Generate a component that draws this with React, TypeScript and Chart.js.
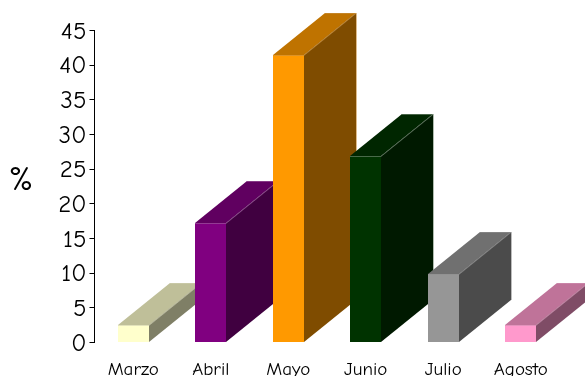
import { useEffect, useRef } from "react";
import { Chart, registerables } from "chart.js";

Chart.register(...registerables);

const months = ["Marzo", "Abril", "Mayo", "Junio", "Julio", "Agosto"];
const percentages = [2.5, 17.2, 41.5, 26.9, 9.9, 2.5];
const frontColors = ["#FFFFCC", "#800080", "#FF9900", "#003300", "#969696", "#FF99CC"];
const topColors = ["#BFBF99", "#600060", "#BF7300", "#002600", "#707070", "#BF7399"];
const sideColors = ["#7F7F66", "#400040", "#7F4C00", "#001900", "#4B4B4B", "#7F4C66"];
const edgeColors = ["#CFCFAF", "#A060A0", "#C89040", "#7A907A", "#909090", "#D090B0"];

const FONT = "'Comic Sans MS', 'Comic Neue', Lato, 'Open Sans', sans-serif";
const DEPTH_X = 52;
const DEPTH_Y = 42;

// Draws each bar as a box, left to right, so nearer fronts hide earlier sides.
const extrudedBars = {
  id: "extrudedBars",
  beforeDatasetsDraw(chart: any) {
    const { ctx } = chart;
    chart.getDatasetMeta(0).data.forEach((bar: any, i: number) => {
      const left = Math.round(bar.x - bar.width / 2);
      const right = left + Math.round(bar.width);
      const top = Math.round(bar.y);
      const base = Math.round(bar.base);
      ctx.save();
      ctx.fillStyle = topColors[i];
      ctx.beginPath();
      ctx.moveTo(left, top);
      ctx.lineTo(left + DEPTH_X, top - DEPTH_Y);
      ctx.lineTo(right + DEPTH_X, top - DEPTH_Y);
      ctx.lineTo(right, top);
      ctx.closePath();
      ctx.fill();
      ctx.fillStyle = sideColors[i];
      ctx.beginPath();
      ctx.moveTo(right, top);
      ctx.lineTo(right + DEPTH_X, top - DEPTH_Y);
      ctx.lineTo(right + DEPTH_X, base - DEPTH_Y);
      ctx.lineTo(right, base);
      ctx.closePath();
      ctx.fill();
      ctx.fillStyle = frontColors[i];
      ctx.fillRect(left, top, right - left, base - top);
      // Thin highlight along the upper and rear edges of the box.
      ctx.strokeStyle = edgeColors[i];
      ctx.lineWidth = 1;
      ctx.beginPath();
      ctx.moveTo(left, top + 0.5);
      ctx.lineTo(right, top + 0.5);
      ctx.lineTo(right + DEPTH_X, top - DEPTH_Y + 0.5);
      ctx.lineTo(left + DEPTH_X, top - DEPTH_Y + 0.5);
      ctx.moveTo(right + DEPTH_X + 0.5, top - DEPTH_Y);
      ctx.lineTo(right + DEPTH_X + 0.5, base - DEPTH_Y);
      ctx.globalAlpha = 0.6;
      ctx.stroke();
      ctx.restore();
    });
    return false;
  },
};

// Upright unit label left of the value axis.
const unitLabel = {
  id: "unitLabel",
  afterDraw(chart: any) {
    const { ctx } = chart;
    ctx.save();
    ctx.font = `34px ${FONT}`;
    ctx.fillStyle = "#000000";
    ctx.textAlign = "center";
    ctx.textBaseline = "middle";
    ctx.fillText("%", 21, 180);
    ctx.restore();
  },
};

export default function App() {
  const canvasRef = useRef<HTMLCanvasElement>(null);

  useEffect(() => {
    const chart = new Chart(canvasRef.current!, {
      type: "bar",
      data: {
        labels: months,
        datasets: [
          {
            data: percentages,
            backgroundColor: frontColors,
            barThickness: 31,
            borderWidth: 0,
          },
        ],
      },
      options: {
        animation: false,
        responsive: false,
        layout: { padding: { top: 30.5, right: 25.5, bottom: 0, left: 0 } },
        plugins: { legend: { display: false }, tooltip: { enabled: false } },
        scales: {
          x: {
            grid: { display: false },
            border: { display: false },
            ticks: {
              color: "#000000",
              font: { family: FONT, size: 19 },
              maxRotation: 0,
              autoSkip: false,
              padding: 8,
            },
            afterFit(scale: any) {
              scale.height = 33.5;
            },
          },
          y: {
            min: 0,
            max: 45,
            grid: {
              drawOnChartArea: false,
              drawTicks: true,
              tickLength: 5,
              tickColor: "#000000",
            },
            border: { display: true, color: "#000000", width: 1 },
            ticks: {
              stepSize: 5,
              color: "#000000",
              font: { family: FONT, size: 25 },
              padding: 3,
              labelOffset: 1,
            },
            afterFit(scale: any) {
              scale.width = 94.5;
            },
          },
        },
      },
      plugins: [extrudedBars, unitLabel],
    });
    return () => chart.destroy();
  }, []);

  return (
    <canvas
      ref={canvasRef}
      width={585}
      height={376}
      style={{ position: "fixed", left: 0, top: 0, display: "block" }}
    />
  );
}
